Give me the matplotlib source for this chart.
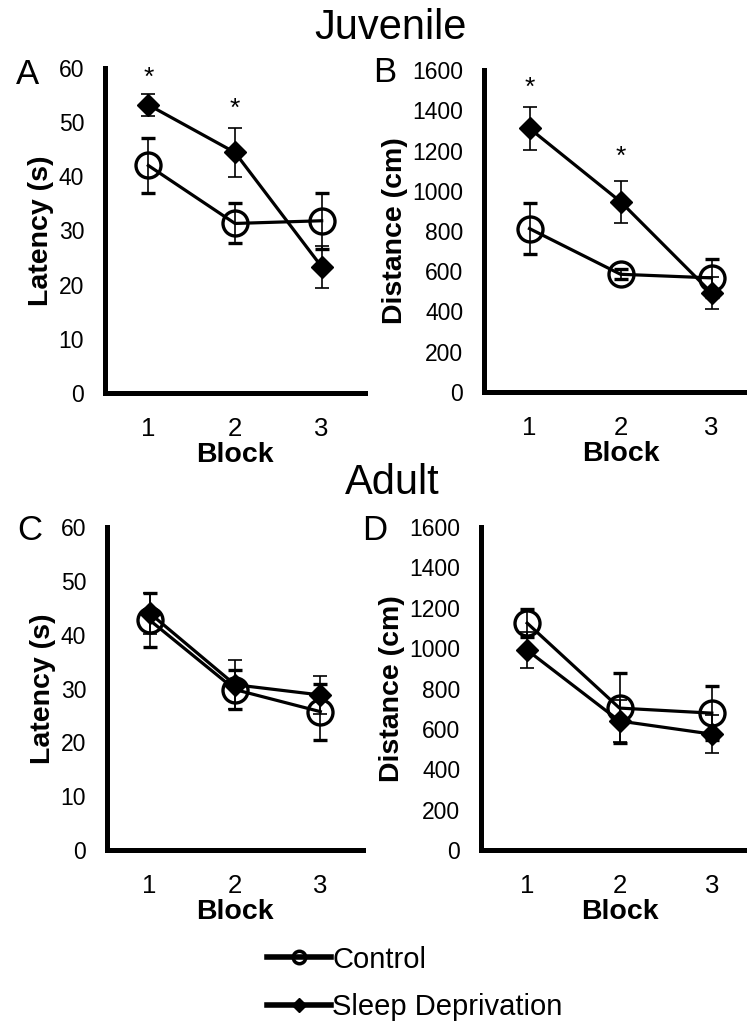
import matplotlib
matplotlib.use("Agg")
import matplotlib.pyplot as plt
from matplotlib.lines import Line2D

plt.rcParams["font.family"] = ["Liberation Sans", "DejaVu Sans"]

blocks = [1, 2, 3]

# Juvenile latency (s)
juv_lat_ctrl = [42, 31.3, 31.8]
juv_lat_ctrl_err = [5, 3.7, 5.2]
juv_lat_sd = [53.2, 44.4, 23.3]
juv_lat_sd_err = [2, 4.6, 3.9]

# Juvenile distance (cm)
juv_dist_ctrl = [812, 585, 567]
juv_dist_ctrl_err = [125, 25, 95]
juv_dist_sd = [1310, 946, 493]
juv_dist_sd_err = [108, 104, 80]

# Adult latency (s)
ad_lat_ctrl = [42.7, 29.8, 25.7]
ad_lat_ctrl_err = [5, 3.7, 5.2]
ad_lat_sd = [44, 30.7, 28.8]
ad_lat_sd_err = [3.8, 4.6, 3.5]

# Adult distance (cm)
ad_dist_ctrl = [1124, 703, 678]
ad_dist_ctrl_err = [70, 173, 134]
ad_dist_sd = [990, 639, 574]
ad_dist_sd_err = [90, 104, 94]

# significance markers (block, y)
juv_lat_stars = [(1, 58.2), (2, 52.4)]
juv_dist_stars = [(1, 1510), (2, 1170)]

W, H = 747, 1022
fig = plt.figure(figsize=(W / 100, H / 100), dpi=100)


def px_axes(left, top, right, bottom):
    return fig.add_axes([left / W, 1 - bottom / H, (right - left) / W, (bottom - top) / H])


def draw_panel(ax, ctrl, ctrl_err, sd, sd_err, ymax, ystep, ylabel, stars=()):
    ax.errorbar(blocks, ctrl, yerr=ctrl_err, color="black", lw=2.3, marker="o",
                ms=18, mfc="none", mec="black", mew=2.4, ecolor="black",
                elinewidth=1.2, capsize=5, capthick=1.2, zorder=3)
    ax.errorbar(blocks, sd, yerr=sd_err, color="black", lw=2.3, marker="D",
                ms=11, mfc="black", mec="black", ecolor="black",
                elinewidth=1.2, capsize=5, capthick=1.2, zorder=3)
    for x, y in stars:
        ax.text(x, y, "*", ha="center", va="center", fontsize=19)
    ax.set_xlim(0.5, 3.5)
    ax.set_ylim(0, ymax)
    ax.set_yticks(range(0, ymax + 1, ystep))
    ax.set_xticks(blocks)
    ax.spines["top"].set_visible(False)
    ax.spines["right"].set_visible(False)
    for s in ("left", "bottom"):
        ax.spines[s].set_linewidth(3.6)
        ax.spines[s].set_capstyle("projecting")
    ax.tick_params(axis="both", length=0)
    ax.tick_params(axis="y", pad=15, labelsize=16.5)
    ax.tick_params(axis="x", pad=17, labelsize=18.5)
    ax.set_xlabel("Block", fontsize=20.5, fontweight="bold", labelpad=1)
    ax.set_ylabel(ylabel, fontsize=20.5, fontweight="bold", labelpad=3)
    ax.patch.set_alpha(0)


axA = px_axes(105, 68, 365, 393)
draw_panel(axA, juv_lat_ctrl, juv_lat_ctrl_err, juv_lat_sd, juv_lat_sd_err,
           60, 10, "Latency (s)", juv_lat_stars)
axB = px_axes(484, 70, 757, 392)
draw_panel(axB, juv_dist_ctrl, juv_dist_ctrl_err, juv_dist_sd, juv_dist_sd_err,
           1600, 200, "Distance (cm)", juv_dist_stars)
axC = px_axes(107, 527, 363, 850)
draw_panel(axC, ad_lat_ctrl, ad_lat_ctrl_err, ad_lat_sd, ad_lat_sd_err,
           60, 10, "Latency (s)")
axD = px_axes(481, 527, 758, 850)
draw_panel(axD, ad_dist_ctrl, ad_dist_ctrl_err, ad_dist_sd, ad_dist_sd_err,
           1600, 200, "Distance (cm)")

fig.text(391 / W, 1 - 28 / H, "Juvenile", ha="center", va="center", fontsize=30)
fig.text(392 / W, 1 - 483 / H, "Adult", ha="center", va="center", fontsize=30)
for label, x, y in [("A", 28, 75), ("B", 385, 72), ("C", 30, 530), ("D", 375, 530)]:
    fig.text(x / W, 1 - y / H, label, ha="center", va="center", fontsize=25)

handles = [
    Line2D([], [], color="black", lw=4, marker="o", ms=9, mfc="none", mec="black", mew=2.5),
    Line2D([], [], color="black", lw=4, marker="D", ms=7, mfc="black", mec="black"),
]
fig.legend(handles, ["Control", "Sleep Deprivation"], loc="upper left",
           bbox_to_anchor=(252 / W, 1 - 931 / H), frameon=False, fontsize=21,
           handlelength=2.2, handletextpad=0.05, labelspacing=0.68, borderpad=0)

fig.savefig("out.png", dpi=100)
